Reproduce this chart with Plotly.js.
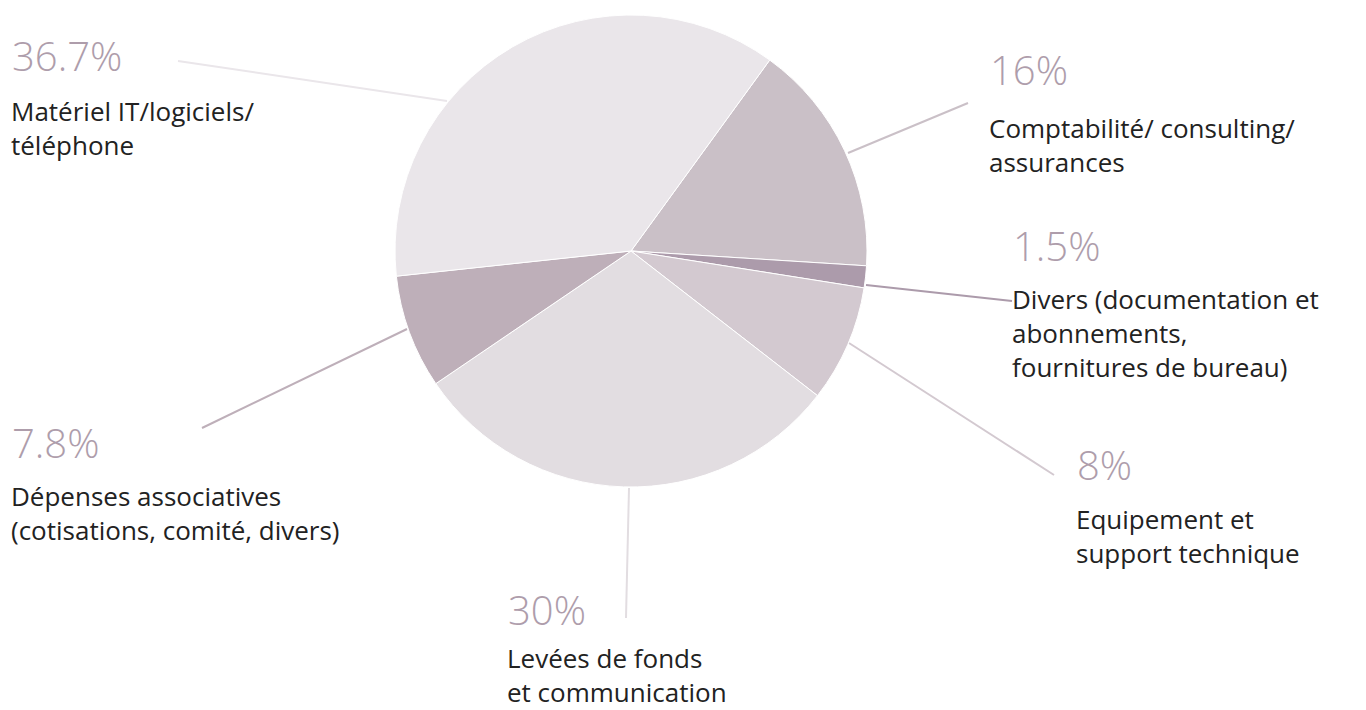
<!DOCTYPE html>
<html>
<head>
<meta charset="utf-8">
<script src="https://cdn.plot.ly/plotly-3.0.1.min.js"></script>
<style>html,body{margin:0;padding:0;background:#fff;}#chart{width:1366px;height:710px;}</style>
</head>
<body>
<div id="chart"></div>
<script>
// Data
const categories = [
  "Comptabilité/ consulting/<br>assurances",
  "Divers (documentation et<br>abonnements,<br>fournitures de bureau)",
  "Equipement et<br>support technique",
  "Levées de fonds<br>et communication",
  "Dépenses associatives<br>(cotisations, comité, divers)",
  "Matériel IT/logiciels/<br>téléphone"
];
const values = [16, 1.5, 8, 30, 7.8, 36.7];
const percentLabels = ["16%", "1.5%", "8%", "30%", "7.8%", "36.7%"];
const sliceColors = ["#cac0c7", "#ac9bab", "#d3c9d0", "#e2dde1", "#beafb9", "#eae6ea"];

// Layout helpers (pixel positions of the label blocks and leader lines)
const W = 1366, H = 710;
const px = x => x / W;
const py = y => 1 - y / H;
const labelPos = [
  {x: 988, pctY: 70, lblY: 145},
  {x: 1011, pctY: 245, lblY: 333},
  {x: 1075, pctY: 464, lblY: 536},
  {x: 506, pctY: 609, lblY: 675},
  {x: 10, pctY: 443, lblY: 513},
  {x: 10, pctY: 55, lblY: 128}
];
const leaders = [
  [848, 153, 968, 103],
  [866, 285, 1012, 301],
  [849, 343, 1054, 475],
  [629, 488, 626, 618],
  [407, 329, 202, 428],
  [447, 101, 178, 61]
];

const annotations = [];
categories.forEach((c, i) => {
  const p = labelPos[i];
  annotations.push({
    xref: 'paper', yref: 'paper', x: px(p.x), y: py(p.pctY),
    xanchor: 'left', yanchor: 'middle', showarrow: false,
    text: percentLabels[i], align: 'left',
    font: {family: 'Open Sans', size: 40, color: '#ae9dab', weight: 300}
  });
  annotations.push({
    xref: 'paper', yref: 'paper', x: px(p.x), y: py(p.lblY),
    xanchor: 'left', yanchor: 'middle', showarrow: false,
    text: c, align: 'left', borderpad: 0,
    font: {family: 'Open Sans', size: 26, color: '#222222'}
  });
});

const shapes = leaders.map((l, i) => ({
  type: 'line', xref: 'paper', yref: 'paper', layer: 'below',
  x0: px(l[0]), y0: py(l[1]), x1: px(l[2]), y1: py(l[3]),
  line: {color: sliceColors[i], width: 2}
}));

const cx = 631, cy = 251, r = 236;
const trace = {
  type: 'pie',
  labels: categories,
  values: values,
  sort: false,
  direction: 'clockwise',
  rotation: 36,
  textinfo: 'none',
  hoverinfo: 'label+percent',
  marker: {colors: sliceColors, line: {color: '#ffffff', width: 1}},
  domain: {x: [px(cx - r), px(cx + r)], y: [py(cy + r), py(cy - r)]},
  showlegend: false
};

Plotly.newPlot('chart', [trace], {
  width: W, height: H,
  margin: {l: 0, r: 0, t: 0, b: 0},
  paper_bgcolor: '#ffffff',
  showlegend: false,
  font: {family: 'Open Sans'},
  annotations: annotations,
  shapes: shapes
}, {displayModeBar: false, staticPlot: true});
</script>
</body>
</html>
